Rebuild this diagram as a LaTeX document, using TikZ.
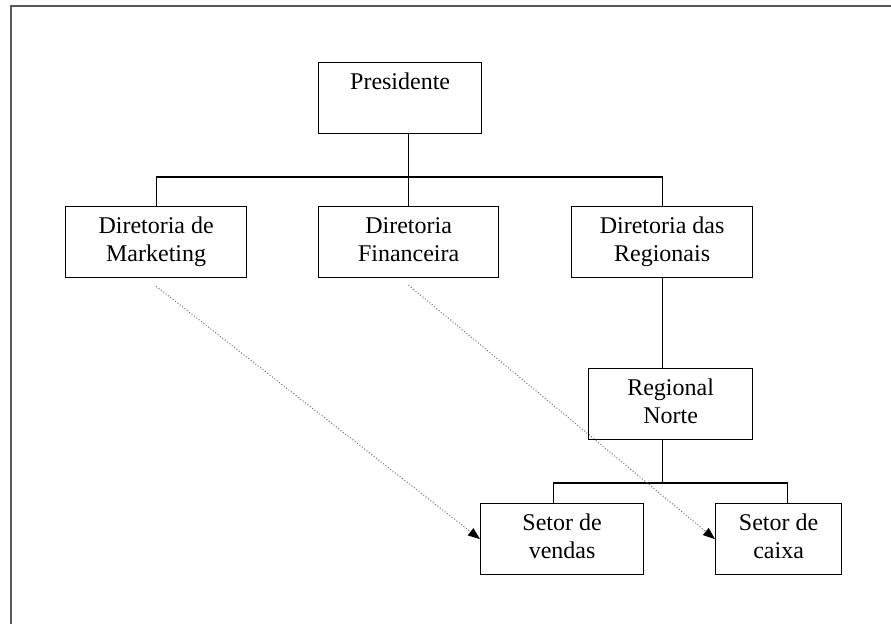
\documentclass[tikz,border=0pt]{standalone}
\usepackage{fontspec}
\setmainfont{Liberation Serif}
\usetikzlibrary{arrows.meta}

\begin{document}
\begin{tikzpicture}[x=0.5pt,y=-0.5pt,
  cargo/.style={rectangle, draw, line width=0.65pt, align=center, anchor=north west, inner sep=0pt, minimum height=35.5pt, font=\fontsize{12}{14}\selectfont},
  ligacao/.style={line width=0.65pt},
  seta/.style={-{Triangle[length=6pt,width=4.5pt,color=black]}, densely dotted, line width=0.5pt, black!55}]
\useasboundingbox (0,0) rectangle (891,624);

% Moldura
\draw[line width=1pt, black!65] (11,640) -- (11,6) -- (910,6);

% Cargos
\node[cargo, minimum width=81.5pt] (presidente) at (318,62) {Presidente\strut\\\strut};
\node[cargo, minimum width=90.5pt] (marketing) at (65,206) {Diretoria de\strut\\Marketing\strut};
\node[cargo, minimum width=90pt] (financeira) at (318,206) {Diretoria\strut\\Financeira\strut};
\node[cargo, minimum width=90.5pt] (regionais) at (571,206) {Diretoria das\strut\\Regionais\strut};
\node[cargo, minimum width=82pt] (norte) at (588,368) {Regional\strut\\Norte\strut};
\node[cargo, minimum width=81.5pt] (vendas) at (480,503) {Setor de\strut\\vendas\strut};
\node[cargo, minimum width=63pt] (caixa) at (715,503) {Setor de\strut\\caixa\strut};

\coordinate (barra1) at (0,177);
\coordinate (barra2) at (0,483);

% Ligacoes do presidente
\draw[ligacao] (presidente.south -| financeira.north) -- (financeira.north);
\draw[ligacao] (marketing.north) -- (marketing.north |- barra1) -| (regionais.north);

% Regionais
\draw[ligacao] (regionais.south) -- (regionais.south |- norte.north);
\draw[ligacao] (regionais.south |- norte.south) -- (regionais.south |- barra2);
\draw[ligacao] ([xshift=-4.5pt]vendas.north) -- ([xshift=-4.5pt]vendas.north |- barra2) -| ([xshift=4.5pt]caixa.north);

% Setas pontilhadas
\draw[seta] ([yshift=-4pt]marketing.south) -- (vendas.west);
\draw[seta] ([yshift=-3.5pt]financeira.south) -- (caixa.west);
\end{tikzpicture}
\end{document}
